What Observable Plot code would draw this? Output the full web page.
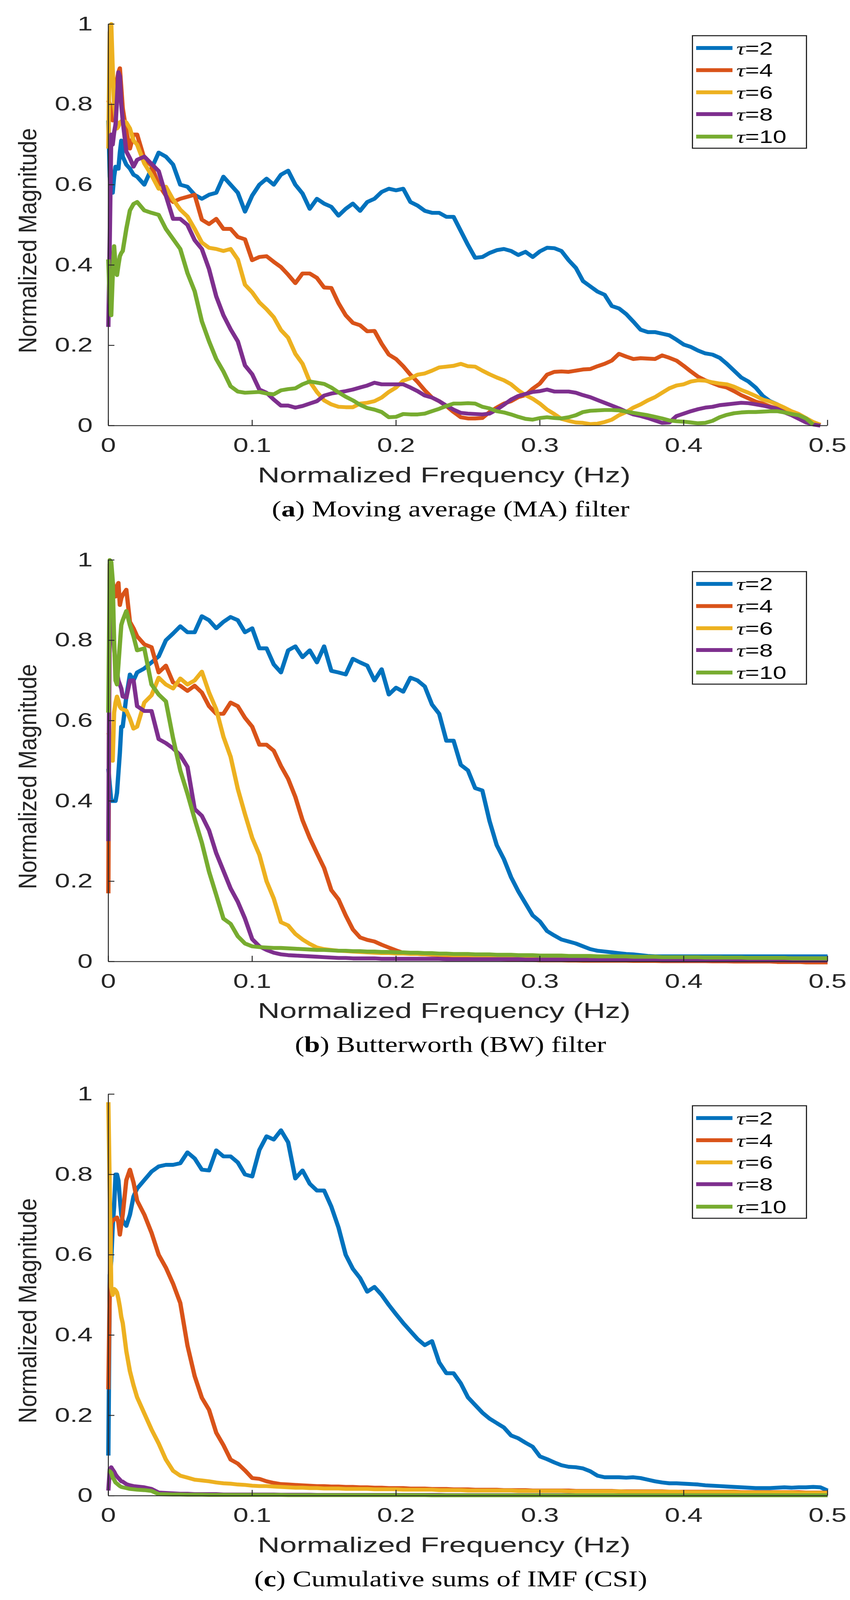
<!DOCTYPE html>
<html><head><meta charset="utf-8">
<script src="https://cdn.jsdelivr.net/npm/d3@7"></script>
<script src="https://cdn.jsdelivr.net/npm/@observablehq/plot@0.6"></script>
<style>
html,body{margin:0;padding:0;background:#fff;overflow:hidden;}
#viewport{position:relative;width:2177px;overflow:hidden;background:#fff;}
#page{position:absolute;left:0;top:0;width:2177px;height:4550px;overflow:hidden;background:#fff;transform-origin:0 0;}
.panel{position:absolute;left:0;width:2177px;}
.caption{position:absolute;left:0;width:2308px;text-align:center;font-family:"Liberation Serif","Times New Roman",serif;font-size:64px;color:#000;line-height:64px;white-space:nowrap;}
.caption .inner{display:inline-block;transform:scaleX(1.13);transform-origin:center;}
.legend{position:absolute;left:1772px;width:295px;height:323px;box-sizing:border-box;border:3px solid #262626;background:#fff;}
.lg-line{position:absolute;left:8px;width:93px;height:11px;}
.lg-text{position:absolute;left:111px;font-family:"Liberation Sans",Arial,sans-serif;font-size:52px;line-height:60px;white-space:nowrap;transform:scaleX(1.2);transform-origin:left center;color:#000;}
.tau{font-family:"Liberation Serif","DejaVu Serif",serif;font-style:italic;}
</style></head>
<body><div id="viewport"><div id="page"></div></div>
<script>
// ---------- data ----------
const freq = [0, 0.001, 0.002, 0.003, 0.004, 0.005, 0.006, 0.007, 0.008, 0.009, 0.01, 0.0125, 0.015, 0.0175, 0.02,
0.025, 0.03, 0.035, 0.04, 0.045, 0.05, 0.055, 0.06, 0.065, 0.07,
0.075, 0.08, 0.085, 0.09, 0.095, 0.1, 0.105, 0.11, 0.115, 0.12,
0.125, 0.13, 0.135, 0.14, 0.145, 0.15, 0.155, 0.16, 0.165, 0.17,
0.175, 0.18, 0.185, 0.19, 0.195, 0.2, 0.205, 0.21, 0.215, 0.22,
0.225, 0.23, 0.235, 0.24, 0.245, 0.25, 0.255, 0.26, 0.265, 0.27,
0.275, 0.28, 0.285, 0.29, 0.295, 0.3, 0.305, 0.31, 0.315, 0.32,
0.325, 0.33, 0.335, 0.34, 0.345, 0.35, 0.355, 0.36, 0.365, 0.37,
0.375, 0.38, 0.385, 0.39, 0.395, 0.4, 0.405, 0.41, 0.415, 0.42,
0.425, 0.43, 0.435, 0.44, 0.445, 0.45, 0.455, 0.46, 0.465, 0.47,
0.475, 0.48, 0.485, 0.49, 0.495, 0.5];

// (a) Moving average filter
const maT2 = [.76,.62,.58,.58,.62,.645,.64,.64,.68,.71,.67,.65,.64,.625,.62,
.60,.64,.68,.67,.65,.60,.595,.575,.565,.575,
.58,.62,.60,.58,.533,.573,.60,.615,.60,.625,
.635,.60,.578,.54,.565,.553,.545,.523,.54,.553,
.535,.557,.565,.582,.59,.586,.59,.557,.548,.535,
.53,.53,.52,.52,.485,.45,.418,.42,.43,.437,
.44,.435,.425,.433,.42,.434,.443,.442,.435,.412,
.393,.36,.347,.334,.326,.298,.292,.278,.259,.239,
.233,.233,.229,.225,.214,.202,.196,.187,.18,.177,
.169,.154,.137,.12,.11,.095,.074,.061,.053,.042,
.034,.026,.017,.007,.002,null];
const maT4 = [.81,.80,.78,.76,.80,.84,.86,.88,.89,.84,.79,.733,.69,.725,.725,
.665,.647,.60,.573,.557,.565,.57,.575,.513,.502,
.515,.49,.49,.47,.464,.412,.42,.422,.408,.395,
.376,.355,.379,.379,.368,.344,.343,.305,.275,.256,
.25,.235,.236,.204,.177,.166,.148,.127,.109,.088,
.07,.061,.049,.034,.021,.018,.018,.019,.034,.045,
.055,.061,.071,.076,.092,.105,.127,.134,.135,.134,
.137,.14,.141,.148,.154,.162,.179,.172,.166,.168,
.167,.166,.175,.169,.162,.149,.135,.122,.113,.106,
.099,.095,.086,.076,.068,.06,.055,.048,.043,.038,
.031,.023,.017,.009,.002,null];
const maT6 = [.69,.98,1.0,.89,.80,.77,.74,.745,.755,.758,.76,.755,.74,.71,.70,
.653,.624,.59,.595,.563,.538,.521,.49,.456,.443,
.44,.435,.44,.414,.351,.332,.307,.29,.27,.238,
.219,.179,.154,.11,.084,.063,.053,.047,.046,.046,
.055,.057,.061,.07,.084,.095,.112,.118,.127,.13,
.137,.145,.147,.149,.154,.148,.147,.137,.128,.12,
.113,.103,.088,.076,.067,.055,.04,.029,.017,.012,
.008,.007,.004,.005,.009,.015,.026,.034,.045,.053,
.063,.071,.082,.093,.10,.103,.11,.113,.112,.108,
.105,.103,.097,.089,.082,.074,.065,.06,.053,.045,
.036,.029,.019,.009,.002,null];
const maT8 = [.246,.47,.725,.70,.73,.75,.81,.88,.87,.80,.76,.683,.666,.645,.662,
.67,.652,.634,.573,.515,.515,.50,.462,.44,.39,
.322,.275,.24,.21,.15,.128,.09,.082,.065,.05,
.05,.045,.049,.055,.061,.075,.08,.083,.086,.09,
.095,.10,.107,.103,.103,.103,.103,.095,.086,.075,
.07,.061,.05,.04,.032,.03,.029,.028,.03,.04,
.052,.065,.074,.079,.084,.086,.09,.085,.085,.085,
.082,.076,.071,.064,.057,.05,.043,.035,.028,.024,
.019,.013,.007,.008,.024,.03,.036,.041,.045,.047,
.051,.053,.055,.057,.056,.053,.05,.046,.042,.033,
.026,.017,.008,.003,0,null];
const maT10 = [.414,.305,.275,.372,.447,.40,.375,.40,.422,.43,.435,.49,.536,.552,.557,
.536,.53,.525,.49,.465,.44,.38,.335,.26,.21,
.166,.135,.098,.085,.082,.083,.084,.08,.078,.088,
.091,.093,.103,.11,.107,.104,.095,.083,.072,.063,
.052,.044,.04,.034,.021,.022,.029,.028,.028,.03,
.036,.042,.049,.055,.055,.056,.055,.047,.043,.036,
.033,.028,.022,.017,.015,.019,.021,.019,.018,.021,
.026,.034,.037,.038,.039,.039,.038,.035,.032,.029,
.026,.022,.018,.013,.011,.01,.008,.006,.007,.012,
.021,.027,.031,.033,.034,.034,.035,.036,.036,.033,
.029,.026,.018,.003,null,null];

// (b) Butterworth filter
const bwT2 = [.48,.44,.40,.40,.40,.40,.42,.47,.52,.585,.585,.66,.715,.70,.72,
.73,.745,.76,.80,.817,.835,.82,.82,.86,.85,
.83,.846,.858,.85,.82,.83,.78,.78,.74,.72,
.775,.785,.758,.775,.745,.785,.724,.72,.715,.754,
.745,.737,.70,.728,.665,.682,.672,.707,.70,.685,
.64,.617,.55,.55,.49,.476,.432,.426,.35,.29,
.255,.21,.175,.145,.115,.10,.076,.065,.055,.05,
.045,.038,.031,.027,.025,.023,.021,.019,.018,.016,
.014,.013,.013,.013,.013,.013,.013,.013,.013,.013,
.013,.013,.013,.013,.013,.013,.013,.013,.013,.013,
.013,.013,.013,.013,.013,.013];
const bwT4 = [.17,.99,.955,.947,.92,.909,.935,.943,.888,.905,.913,.926,.846,.83,.81,
.79,.783,.72,.737,.695,.687,.674,.687,.67,.636,
.617,.617,.645,.636,.607,.585,.54,.54,.525,.487,
.455,.41,.352,.308,.27,.233,.178,.155,.115,.08,
.06,.054,.05,.042,.035,.028,.022,.021,.019,.018,
.017,.016,.015,.013,.012,.011,.01,.009,.008,.007,
.006,.005,.005,.004,.004,.003,.003,.003,.003,.0025,
.0025,.002,.002,.002,.002,.002,.002,.002,.0015,.0015,
.0015,.0015,.001,.001,.001,.001,.001,.001,.001,.0005,
.0005,.0005,0,0,0,0,0,0,-.001,-.001,
-.001,-.001,-.002,-.002,-.002,-.002];
const bwT6 = [.57,.56,.52,.50,.62,.645,.66,.65,.635,.63,.628,.625,.605,.58,.585,
.645,.663,.707,.69,.68,.705,.69,.70,.722,.67,
.628,.56,.51,.43,.367,.308,.266,.20,.157,.098,
.09,.069,.055,.044,.035,.031,.029,.027,.026,.025,
.024,.023,.022,.021,.021,.02,.02,.019,.019,.018,
.018,.017,.017,.016,.016,.016,.015,.015,.015,.014,
.014,.014,.014,.013,.013,.013,.013,.013,.012,.012,
.012,.012,.012,.012,.012,.011,.011,.011,.011,.011,
.011,.011,.01,.01,.01,.01,.01,.01,.01,.01,
.01,.009,.009,.009,.009,.009,.009,.009,.009,.009,
.008,.008,.008,.008,.008,.008];
const bwT8 = [.30,.95,.90,.83,.78,.745,.72,.70,.69,.68,.66,.657,.70,.70,.636,
.624,.624,.554,.544,.531,.514,.485,.38,.363,.327,
.27,.226,.182,.149,.107,.056,.038,.029,.022,.018,
.016,.015,.014,.013,.012,.011,.01,.009,.009,.008,
.008,.008,.008,.007,.007,.007,.007,.007,.007,.007,
.007,.007,.006,.006,.006,.006,.006,.006,.006,.006,
.006,.006,.006,.005,.005,.005,.005,.005,.005,.005,
.005,.005,.004,.004,.004,.004,.004,.004,.004,.004,
.004,.004,.003,.003,.003,.003,.003,.003,.003,.003,
.003,.003,.003,.003,.003,.003,.003,.003,.003,.003,
.0025,.0025,.0025,.0025,.0025,.0025];
const bwT10 = [.62,1.0,.995,.95,.80,.70,.69,.74,.79,.838,.85,.873,.838,.81,.775,
.78,.69,.665,.648,.556,.476,.418,.355,.296,.224,
.166,.107,.094,.063,.045,.038,.036,.035,.034,.034,
.033,.032,.031,.03,.029,.029,.028,.027,.027,.026,
.026,.025,.025,.024,.024,.023,.023,.022,.022,.021,
.021,.02,.02,.019,.019,.019,.018,.018,.018,.017,
.017,.017,.016,.016,.016,.015,.015,.015,.015,.014,
.014,.014,.014,.013,.013,.013,.013,.013,.012,.012,
.012,.012,.011,.011,.011,.011,.011,.011,.01,.01,
.01,.01,.01,.01,.009,.009,.009,.009,.009,.009,
.008,.008,.008,.008,.008,.008];

// (c) Cumulative sums of IMF
const csT2 = [.10,.55,.584,.67,.72,.80,.80,.785,.74,.70,.685,.672,.70,.745,.765,
.786,.807,.82,.824,.824,.828,.855,.84,.812,.81,
.86,.845,.845,.83,.80,.795,.861,.895,.887,.91,
.88,.79,.81,.777,.76,.76,.72,.668,.60,.565,
.542,.508,.52,.50,.475,.452,.43,.41,.39,.375,
.385,.332,.305,.305,.28,.245,.226,.207,.192,.181,
.17,.15,.143,.132,.122,.098,.091,.083,.076,.072,
.071,.068,.061,.05,.046,.046,.046,.045,.046,.044,
.04,.036,.033,.031,.031,.03,.029,.028,.026,.025,
.024,.023,.022,.021,.02,.019,.019,.019,.02,.021,
.02,.021,.021,.022,.021,.013];
const csT4 = [.265,.52,.68,.685,.688,.69,.693,.68,.65,.676,.70,.786,.812,.78,.735,
.70,.655,.60,.568,.528,.48,.374,.298,.244,.214,
.157,.126,.09,.08,.063,.044,.042,.036,.032,.029,
.028,.027,.026,.025,.024,.024,.023,.023,.022,.022,
.021,.021,.02,.02,.019,.019,.019,.018,.018,.018,
.017,.017,.017,.016,.016,.016,.015,.015,.015,.015,
.014,.014,.014,.014,.013,.013,.013,.013,.013,.013,
.012,.012,.012,.012,.012,.012,.011,.011,.011,.011,
.011,.011,.011,.01,.01,.01,.01,.01,.01,.01,
.01,.01,.01,.009,.009,.009,.009,.009,.009,.009,
.009,.009,.008,.008,.008,.008];
const csT6 = [.98,.75,.52,.50,.515,.512,.506,.49,.47,.445,.43,.36,.31,.275,.245,
.205,.165,.13,.09,.062,.05,.045,.04,.038,.036,
.033,.031,.03,.028,.027,.025,.024,.024,.023,.022,
.021,.02,.02,.019,.019,.018,.018,.018,.017,.017,
.017,.017,.016,.016,.016,.016,.015,.015,.015,.015,
.015,.014,.014,.014,.014,.013,.013,.013,.013,.013,
.013,.013,.012,.012,.012,.012,.012,.012,.012,.011,
.011,.011,.011,.011,.011,.011,.011,.01,.01,.01,
.01,.01,.01,.01,.01,.009,.009,.009,.009,.009,
.009,.009,.009,.008,.008,.008,.008,.008,.008,.008,
.008,.007,.007,.007,.007,.007];
const csT8 = [.013,.066,.071,.065,.06,.053,.048,.044,.04,.036,.035,.029,.026,.024,.023,
.021,.017,.008,.007,.006,.005,.005,.004,.004,.004,
.004,.003,.003,.003,.003,.003,.003,.003,.003,.0025,
.0025,.0025,.0025,.0025,.002,.002,.002,.002,.002,.002,
.002,.002,.002,.002,.002,.002,.002,.002,.002,.002,
.002,.002,.0015,.0015,.0015,.0015,.0015,.0015,.0015,.0015,
.0015,.0015,.0015,.0015,.0015,.0015,.0015,.0015,.0015,.0015,
.001,.001,.001,.001,.001,.001,.001,.001,.001,.001,
.001,.001,.001,.001,.001,.001,.001,.001,.001,.001,
.001,.001,.001,.001,.001,.001,.001,.001,.001,.001,
.001,.001,.001,.001,.001,.001];
const csT10 = [.063,.061,.057,.046,.04,.033,.03,.027,.024,.022,.021,.019,.017,.016,.015,
.014,.012,.004,.0035,.003,.003,.0025,.0025,.0025,.002,
.002,.002,.002,.002,.002,.002,.002,.002,.002,.002,
.0015,.0015,.0015,.0015,.0015,.0015,.0015,.0015,.0015,.0015,
.0015,.0015,.0015,.0015,.0015,.0015,.0015,.0015,.0015,.0015,
.001,.001,.001,.001,.001,.001,.001,.001,.001,.001,
.001,.001,.001,.001,.001,.001,.001,.001,.001,.001,
.001,.001,.001,.001,.001,.001,.001,.001,.001,.001,
.001,.001,.001,.001,.001,.001,.001,.001,.001,.001,
.001,.001,.001,.001,.001,.001,.001,.001,.001,.001,
.001,.001,.001,.001,.001,.001];

const seriesTau = ["2", "4", "6", "8", "10"];
const seriesNames = seriesTau.map(t => "τ=" + t);
const seriesColors = ["#0072BD", "#D95319", "#EDB120", "#7E2F8E", "#77AC30"];
const xTicks = [0, 0.1, 0.2, 0.3, 0.4, 0.5];
const yTicks = [0, 0.2, 0.4, 0.6, 0.8, 1];
const xLabel = "Normalized Frequency (Hz)";
const yLabel = "Normalized Magnitude";
const captionLetters = ["a", "b", "c"];
const captionTexts = [" Moving average (MA) filter", " Butterworth (BW) filter", " Cumulative sums of IMF (CSI)"];
const panelSeries = [
  [maT2, maT4, maT6, maT8, maT10],
  [bwT2, bwT4, bwT6, bwT8, bwT10],
  [csT2, csT4, csT6, csT8, csT10]
];

// ---------- layout ----------
// The figure is laid out at 2177x4550; if the window is shorter, the whole
// figure is scaled vertically so that nothing is cut off.
const fullH = 4550;
const viewH = Math.min(fullH, window.innerHeight || fullH);
const sy = viewH / fullH;
const viewport = document.getElementById("viewport");
viewport.style.height = viewH + "px";
const page = document.getElementById("page");
page.style.transform = "scale(1," + sy + ")";

const panelTops = [0, 1524, 3043];
const axisColor = "#262626";

panelSeries.forEach((series, p) => {
  const top = panelTops[p];
  const rows = [];
  series.forEach((vals, s) => {
    vals.forEach((v, i) => {
      if (v !== null && v !== undefined) rows.push({f: freq[i], v, s: seriesNames[s]});
    });
  });

  const chart = Plot.plot({
    width: 2177,
    height: 1424,
    marginLeft: 277,
    marginRight: 58,
    marginTop: 68,
    marginBottom: 214,
    style: {fontFamily: "'Liberation Sans', Arial, Helvetica, sans-serif", fontSize: "56px", color: axisColor, background: "transparent", overflow: "visible"},
    x: {domain: [0, 0.5]},
    y: {domain: [0, 1]},
    color: {domain: seriesNames, range: seriesColors},
    marks: [
      Plot.line(rows, {x: "f", y: "v", stroke: "s", z: "s", strokeWidth: 11, strokeLinejoin: "round", strokeLinecap: "butt"}),
      Plot.ruleX([0], {stroke: axisColor, strokeWidth: 2.5}),
      Plot.ruleY([0], {stroke: axisColor, strokeWidth: 2.5}),
      Plot.axisX({ticks: xTicks, tickFormat: d => String(d), tickSize: -16, tickPadding: 51, label: null, strokeWidth: 2.5}),
      Plot.axisY({ticks: yTicks, tickFormat: d => String(d), tickSize: -16, tickPadding: 56, label: null, strokeWidth: 2.5}),
      Plot.text([xLabel], {text: d => d, frameAnchor: "bottom", textAnchor: "middle", dy: 141, dx: -61, fontSize: 62, lineAnchor: "middle", fill: axisColor}),
      Plot.text([yLabel], {text: d => d, frameAnchor: "left", textAnchor: "middle", rotate: -90, dx: -205, dy: 45, fontSize: 64, lineAnchor: "middle", fill: axisColor})
    ]
  });

  const wrap = document.createElement("div");
  wrap.className = "panel";
  wrap.style.top = top + "px";
  wrap.appendChild(chart);
  page.appendChild(wrap);

  // horizontal stretch of texts (the reference is widened)
  chart.querySelectorAll("text").forEach(t => {
    const txt = t.textContent;
    let k = 0;
    if (txt === xLabel) k = 1.26;
    else if (txt !== yLabel && txt.length <= 4) k = 1.25;
    if (k) {
      const w = t.getComputedTextLength();
      t.setAttribute("textLength", (w * k).toFixed(1));
      t.setAttribute("lengthAdjust", "spacingAndGlyphs");
    }
  });

  // legend
  const lg = document.createElement("div");
  lg.className = "legend";
  lg.style.top = (top + 100) + "px";
  const rowY = [33, 96, 159, 221, 285];
  seriesTau.forEach((t, s) => {
    const line = document.createElement("div");
    line.className = "lg-line";
    line.style.top = (rowY[s] - 5) + "px";
    line.style.background = seriesColors[s];
    lg.appendChild(line);
    const label = document.createElement("div");
    label.className = "lg-text";
    label.style.top = (rowY[s] - 29) + "px";
    label.innerHTML = '<span class="tau">τ</span>=' + t;
    lg.appendChild(label);
  });
  page.appendChild(lg);

  // caption
  const cap = document.createElement("div");
  cap.className = "caption";
  cap.style.top = (top + 1447 - 32) + "px";
  cap.innerHTML = '<span class="inner">(<b>' + captionLetters[p] + '</b>)' + captionTexts[p] + '</span>';
  page.appendChild(cap);
});
</script>
</body></html>
